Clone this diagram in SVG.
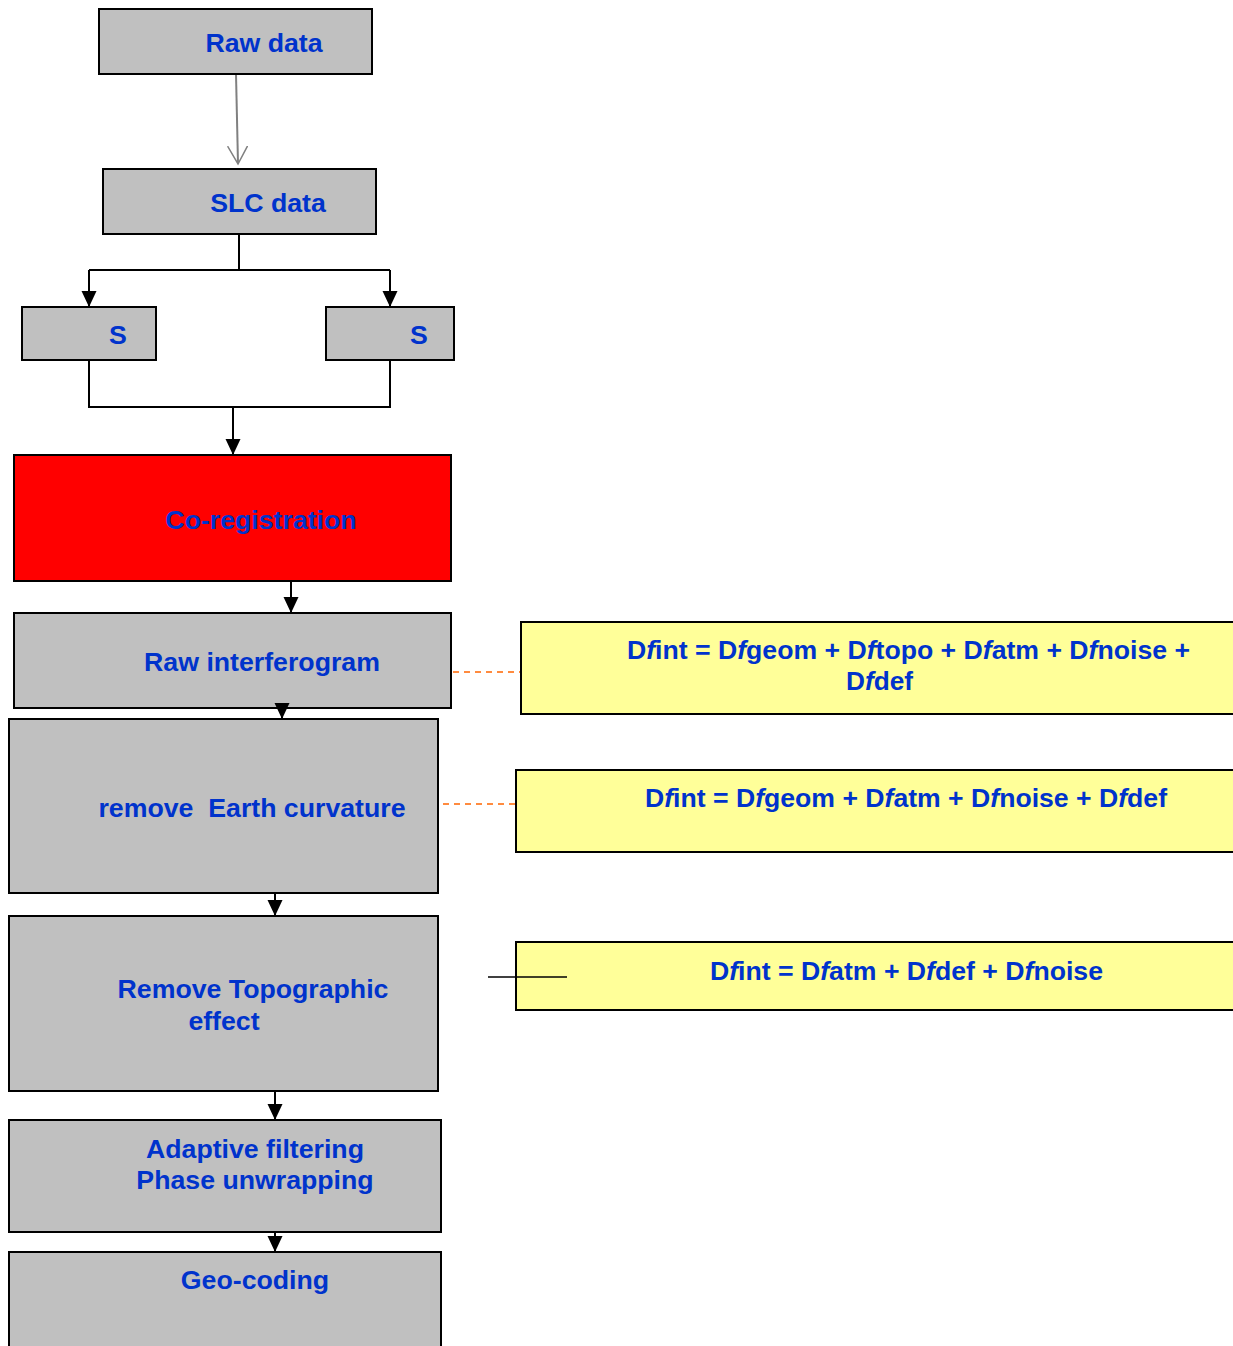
<svg xmlns="http://www.w3.org/2000/svg" width="1233" height="1346" viewBox="0 0 1233 1346">
<defs>
<style>
.box{fill:#C0C0C0;stroke:#000;stroke-width:2}
.red{fill:#FF0000;stroke:#000;stroke-width:2}
.yel{fill:#FFFF99;stroke:#000;stroke-width:2}
.t{font-family:"Liberation Sans",Arial,sans-serif;font-weight:bold;font-size:26.7px;fill:#0033CC;text-anchor:middle}
.f{font-family:"Liberation Sans",Arial,sans-serif;font-weight:bold;font-size:26px;fill:#0033CC}
.ln{fill:none;stroke:#000;stroke-width:2}
.dash{fill:none;stroke:#FF6600;stroke-width:1.5;stroke-dasharray:6,5}
</style>
<marker id="ah" markerUnits="userSpaceOnUse" markerWidth="17" markerHeight="16" refX="16" refY="7.5" orient="auto">
<path d="M0,0 L16,7.5 L0,15 z" fill="#000"/>
</marker>
<marker id="open" markerUnits="userSpaceOnUse" markerWidth="20" markerHeight="22" refX="18" refY="10" orient="auto">
<path d="M0,0 L18,10 L0,20" fill="none" stroke="#808080" stroke-width="1.5"/>
</marker>
</defs>
<rect width="1233" height="1346" fill="#fff"/>

<g id="connectors">
<line x1="236" y1="74" x2="238" y2="164" stroke="#808080" stroke-width="2" marker-end="url(#open)"/>
<path class="ln" d="M239,234 V270 M89,270 H390"/>
<path class="ln" d="M89,270 V307" marker-end="url(#ah)"/>
<path class="ln" d="M390,270 V307" marker-end="url(#ah)"/>
<path class="ln" d="M89,360 V407 H390 V360"/>
<path class="ln" d="M233,407 V455" marker-end="url(#ah)"/>
<path class="ln" d="M291,581 V613" marker-end="url(#ah)"/>
<path class="ln" d="M275,893 V916" marker-end="url(#ah)"/>
<path class="ln" d="M275,1091 V1120" marker-end="url(#ah)"/>
<path class="ln" d="M275,1232 V1252" marker-end="url(#ah)"/>
<line class="dash" x1="453" y1="672" x2="520" y2="672"/>
<line class="dash" x1="443" y1="804" x2="515" y2="804"/>
</g>

<g id="raw-data"><rect class="box" x="99" y="9" width="273" height="65"/><text class="t" x="264" y="52">Raw data</text></g>
<g id="slc-data"><rect class="box" x="103" y="169" width="273" height="65"/><text class="t" x="268" y="212">SLC data</text></g>
<g id="s-left"><rect class="box" x="22" y="307" width="134" height="53"/><text class="t" x="118" y="344">S</text></g>
<g id="s-right"><rect class="box" x="326" y="307" width="128" height="53"/><text class="t" x="419" y="344">S</text></g>
<g id="co-registration"><rect class="red" x="14" y="455" width="437" height="126"/><text class="t" x="261" y="529">Co-registration</text></g>
<g id="raw-interferogram"><rect class="box" x="14" y="613" width="437" height="95"/><text class="t" x="262" y="671">Raw interferogram</text></g>
<g id="remove-earth"><rect class="box" x="9" y="719" width="429" height="174"/><text class="t" x="252" y="817" xml:space="preserve">remove  Earth curvature</text></g>
<g id="remove-topo"><rect class="box" x="9" y="916" width="429" height="175"/><text class="t" x="253" y="998">Remove Topographic</text><text class="t" x="224" y="1030">effect</text></g>
<g id="adaptive"><rect class="box" x="9" y="1120" width="432" height="112"/><text class="t" x="255" y="1158">Adaptive filtering</text><text class="t" x="255" y="1189">Phase unwrapping</text></g>
<g id="geocoding"><rect class="box" x="9" y="1252" width="432" height="100"/><text class="t" x="255" y="1289">Geo-coding</text></g>

<g id="eq1"><rect class="yel" x="521" y="622" width="720" height="92"/>
<text class="f" x="627" y="659" textLength="563" lengthAdjust="spacingAndGlyphs">D<tspan font-style="italic">f</tspan>int = D<tspan font-style="italic">f</tspan>geom + D<tspan font-style="italic">f</tspan>topo + D<tspan font-style="italic">f</tspan>atm + D<tspan font-style="italic">f</tspan>noise +</text>
<text class="f" x="846" y="690" textLength="67" lengthAdjust="spacingAndGlyphs">D<tspan font-style="italic">f</tspan>def</text></g>
<g id="eq2"><rect class="yel" x="516" y="770" width="725" height="82"/>
<text class="f" x="645" y="807" textLength="522" lengthAdjust="spacingAndGlyphs">D<tspan font-style="italic">f</tspan>int = D<tspan font-style="italic">f</tspan>geom + D<tspan font-style="italic">f</tspan>atm + D<tspan font-style="italic">f</tspan>noise + D<tspan font-style="italic">f</tspan>def</text></g>
<g id="eq3"><rect class="yel" x="516" y="942" width="725" height="68"/>
<text class="f" x="710" y="980" textLength="393" lengthAdjust="spacingAndGlyphs">D<tspan font-style="italic">f</tspan>int = D<tspan font-style="italic">f</tspan>atm + D<tspan font-style="italic">f</tspan>def + D<tspan font-style="italic">f</tspan>noise</text></g>
<g id="connectors-2">
<line x1="488" y1="977" x2="567" y2="977" stroke="#000" stroke-width="1.5"/>
<path class="ln" d="M282,703 V719" marker-end="url(#ah)"/>
</g>
</svg>
